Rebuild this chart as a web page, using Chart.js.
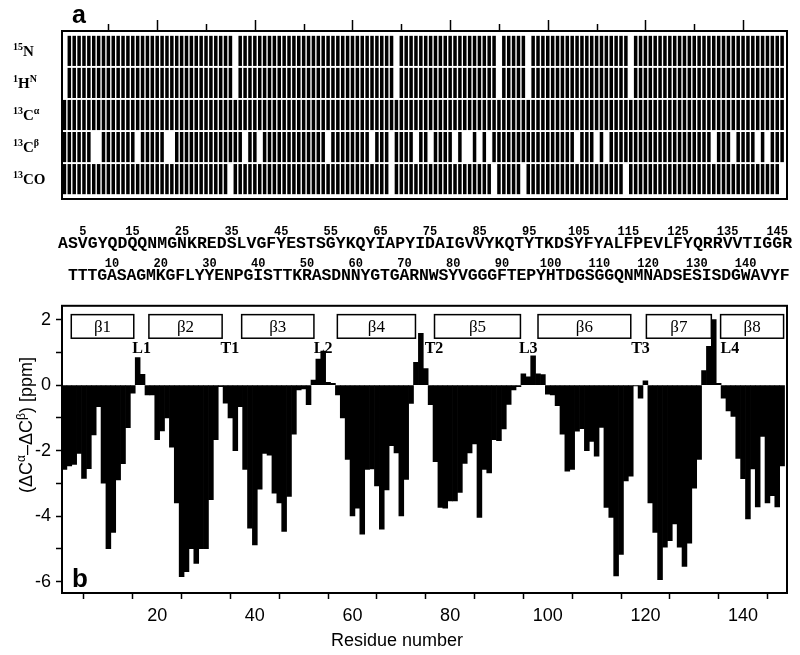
<!DOCTYPE html>
<html>
<head>
<meta charset="utf-8">
<script src="https://cdn.jsdelivr.net/npm/chart.js@4.4.0/dist/chart.umd.min.js"></script>
<style>
  body { margin: 0; background: #fff; width: 800px; height: 655px; position: relative; overflow: hidden; }
  canvas { position: absolute; left: 0; }
  #chartA { top: 0; }
  #chartB { top: 290px; }
</style>
</head>
<body>
<canvas id="chartA" width="800" height="290"></canvas>
<canvas id="chartB" width="800" height="365"></canvas>
<script>
// (dCa - dCb) secondary shift per residue, residues 1..148
const shiftDiff = [
  -2.58, -2.47, -2.42, -2.09, -2.85, -2.55, -1.52, -0.66, -3.00, -5.00,
  -4.50, -2.90, -2.40, -1.30, -0.25,  0.84,  0.33, -0.30, -0.30, -1.67,
  -1.40, -1.00, -1.90, -3.60, -5.85, -5.70, -5.00, -5.45, -5.00, -5.00,
  -3.50, -1.67, -0.05, -0.55, -1.00, -2.00, -0.66, -2.58, -4.37, -4.88,
  -3.18, -2.09, -2.14, -3.30, -3.60, -4.47, -3.40, -1.50, -0.15, -0.12,
  -0.60,  0.15,  0.79,  1.04,  0.08,  0.05, -0.30, -1.00, -2.27, -4.00,
  -3.76, -4.55, -2.58, -2.56, -3.08, -4.40, -3.20, -1.85, -2.07, -4.00,
  -2.88, -0.56,  0.69,  1.58,  0.50, -0.60, -2.34, -3.74, -3.76, -3.54,
  -3.54, -3.28, -2.39, -2.07, -1.80, -4.04, -2.58, -2.68, -1.67, -1.70,
  -1.34, -0.59, -0.15, -0.05,  0.34,  0.25,  0.89,  0.34,  0.32, -0.28,
  -0.30, -0.63, -1.50, -2.63, -2.58, -1.41, -1.33, -2.00, -1.72, -2.17,
  -1.29, -3.74, -4.04, -5.83, -5.17, -2.93, -2.78, -0.03, -0.40,  0.13,
  -3.60, -4.50, -5.94, -4.95, -4.75, -4.24, -4.95, -5.54, -4.83, -3.15,
  -2.27,  0.44,  1.18,  2.00,  0.05, -0.40, -0.79, -0.96, -2.24, -2.86,
  -4.09, -2.56, -3.72, -1.57, -3.60, -3.38, -3.72, -2.47
]

// residues without an assignment, per nucleus (panel a)
const missN  = [1, 36, 69, 90, 96, 117]
const missHN = [1, 36, 69, 90, 96, 117]
const missCA = []
const missCB = [7, 8, 16, 22, 23, 38, 41, 55, 64, 68, 73, 76, 81, 83, 84, 86, 88, 106, 110, 112, 134, 138, 143, 145]
const missCO = [35, 68, 89, 95, 116, 148]

// sequence, odd residues on the top line, even ones below
const oddSeq  = 'ASVGYQDQQNMGNKREDSLVGFYESTSGYKQYIAPYIDAIGVVYKQTYTKDSYFYALFPEVLFYQRRVVTIGGR'
const evenSeq = 'TTTGASAGMKGFLYYENPGISTTKRASDNNYGTGARNWSYVGGGFTEPYHTDGSGGQNMNADSESISDGWAVYF'
const topNums = [5, 15, 25, 35, 45, 55, 65, 75, 85, 95, 105, 115, 125, 135, 145]
const botNums = [10, 20, 30, 40, 50, 60, 70, 80, 90, 100, 110, 120, 130, 140]

// secondary structure
const strandNames = ['β1', 'β2', 'β3', 'β4', 'β5', 'β6', 'β7', 'β8']
const strandStart = [2.4, 18.3, 37.3, 56.9, 76.8, 98.0, 120.2, 135.4]
const strandEnd   = [15.2, 33.3, 52.1, 72.9, 94.4, 117.0, 133.5, 148.3]
const loopNames = ['L1', 'T1', 'L2', 'T2', 'L3', 'T3', 'L4']
const loopPos   = [16.8, 34.9, 54.0, 76.7, 96.0, 119.0, 137.3]

const xTicks = [10, 20, 30, 40, 50, 60, 70, 80, 90, 100, 110, 120, 130, 140]
const yTicks = [-6, -5, -4, -3, -2, -1, 0, 1, 2]

Chart.defaults.font.family = '"Liberation Sans", Arial, sans-serif'
Chart.defaults.color = '#000'

const resNums = shiftDiff.map((v, i) => i + 1)

// ---------- panel a ----------
const nuclei = ['15N', '1HN', '13Cα', '13Cβ', '13CO']
const missing = [missN, missHN, missCA, missCB, missCO]
const rowLabels = [
  [['15', 1], ['N', 0]],
  [['1', 1], ['H', 0], ['N', 1]],
  [['13', 1], ['C', 0], ['α', 1]],
  [['13', 1], ['C', 0], ['β', 1]],
  [['13', 1], ['CO', 0]]
]

const datasetsA = nuclei.map((name, k) => {
  const lo = 4 - k + 0.03
  const hi = 5 - k - 0.03
  return {
    label: name,
    data: resNums.filter(r => !missing[k].includes(r)).map(r => ({ x: r, y: [lo, hi] })),
    backgroundColor: '#000',
    barPercentage: 0.72,
    categoryPercentage: 1,
    grouped: false
  }
})

const panelA = {
  id: 'panelA',
  afterDraw(chart) {
    const { ctx, chartArea: a, scales: { x, y } } = chart
    ctx.save()
    ctx.strokeStyle = '#000'
    ctx.fillStyle = '#000'
    ctx.lineWidth = 2
    ctx.strokeRect(a.left, a.top, a.right - a.left, a.bottom - a.top)

    ctx.lineWidth = 1.5
    xTicks.forEach(v => {
      const px = Math.round(x.getPixelForValue(v)) + 0.5
      const len = v % 20 === 0 ? 10 : 6
      ctx.beginPath()
      ctx.moveTo(px, a.top - 1)
      ctx.lineTo(px, a.top - 1 - len)
      ctx.stroke()
    })

    ctx.textAlign = 'left'
    ctx.textBaseline = 'alphabetic'
    rowLabels.forEach((parts, k) => {
      const yc = y.getPixelForValue(4.5 - k)
      let px = 13
      parts.forEach(([t, sup]) => {
        ctx.font = sup ? 'bold 10px "Liberation Serif"' : 'bold 15px "Liberation Serif"'
        ctx.fillText(t, px, sup ? yc - 1 : yc + 5)
        px += ctx.measureText(t).width
      })
    })

    ctx.font = 'bold 25px "Liberation Sans"'
    ctx.fillText('a', 72, 23)

    // sequence
    ctx.textAlign = 'center'
    ctx.font = 'bold 16.5px "Liberation Mono"'
    oddSeq.split('').forEach((c, i) => ctx.fillText(c, 58 + (i + 0.5) * 9.92, 248))
    evenSeq.split('').forEach((c, i) => ctx.fillText(c, 68 + (i + 0.5) * 9.75, 280))
    ctx.font = 'bold 12px "Liberation Mono"'
    topNums.forEach(n => ctx.fillText(String(n), 58 + ((n - 1) / 2 + 0.5) * 9.92, 235))
    botNums.forEach(n => ctx.fillText(String(n), 68 + (n / 2 - 1 + 0.5) * 9.75, 267))
    ctx.restore()
  }
}

const chartA = new Chart(document.getElementById('chartA'), {
  type: 'bar',
  data: { datasets: datasetsA },
  options: {
    responsive: false,
    animation: false,
    layout: { padding: { left: 62, right: 13, top: 31, bottom: 91 } },
    plugins: { legend: { display: false }, tooltip: { enabled: false } },
    scales: {
      x: { type: 'linear', min: 0.5, max: 149, offset: false, display: false },
      y: { min: -0.12, max: 5.12, display: false }
    }
  },
  plugins: [panelA]
})

// ---------- panel b ----------
const panelB = {
  id: 'panelB',
  afterDraw(chart) {
    const { ctx, chartArea: a, scales: { x, y } } = chart
    ctx.save()
    ctx.strokeStyle = '#000'
    ctx.fillStyle = '#000'
    ctx.lineWidth = 2
    ctx.strokeRect(a.left, a.top, a.right - a.left, a.bottom - a.top)

    // strands
    ctx.lineWidth = 1.5
    ctx.textAlign = 'center'
    ctx.textBaseline = 'middle'
    ctx.font = '17px "Liberation Serif"'
    strandNames.forEach((name, i) => {
      const x1 = x.getPixelForValue(strandStart[i])
      const x2 = x.getPixelForValue(strandEnd[i])
      const y1 = y.getPixelForValue(2.15)
      const y2 = y.getPixelForValue(1.43)
      ctx.strokeRect(x1, y1, x2 - x1, y2 - y1)
      ctx.fillText(name, (x1 + x2) / 2, (y1 + y2) / 2 + 1)
    })

    ctx.font = 'bold 16px "Liberation Serif"'
    loopNames.forEach((name, i) => {
      ctx.fillText(name, x.getPixelForValue(loopPos[i]), y.getPixelForValue(1.1))
    })

    ctx.textBaseline = 'alphabetic'
    ctx.textAlign = 'left'
    ctx.font = 'bold 26px "Liberation Sans"'
    ctx.fillText('b', 72, 297)

    ctx.textAlign = 'center'
    ctx.font = '18px "Liberation Sans"'
    ctx.fillText('Residue number', 397, 356)

    // y title with superscripts
    const parts = [['(ΔC', 0], ['α', 1], ['–ΔC', 0], ['β', 1], [') [ppm]', 0]]
    const fN = '18px "Liberation Sans"'
    const fS = '12px "Liberation Sans"'
    let total = 0
    parts.forEach(([t, s]) => { ctx.font = s ? fS : fN; total += ctx.measureText(t).width })
    ctx.translate(26, 135)
    ctx.rotate(-Math.PI / 2)
    ctx.textAlign = 'left'
    let px = -total / 2
    parts.forEach(([t, s]) => {
      ctx.font = s ? fS : fN
      ctx.fillText(t, px, s ? -1 : 6)
      px += ctx.measureText(t).width
    })
    ctx.restore()
  }
}

const chartB = new Chart(document.getElementById('chartB'), {
  type: 'bar',
  data: {
    datasets: [{
      label: 'dCa-dCb',
      data: resNums.map((r, i) => ({ x: r, y: shiftDiff[i] })),
      backgroundColor: '#000',
      barPercentage: 1,
      categoryPercentage: 1
    }]
  },
  options: {
    responsive: false,
    animation: false,
    layout: { padding: { top: 13, right: 13 } },
    plugins: { legend: { display: false }, tooltip: { enabled: false } },
    scales: {
      x: {
        type: 'linear',
        min: 0.5,
        max: 149,
        offset: false,
        afterBuildTicks: s => { s.ticks = xTicks.map(v => ({ value: v })) },
        afterFit: s => { s.height = 62 },
        border: { display: false },
        grid: { drawOnChartArea: false, tickLength: 6, tickColor: '#000', tickWidth: 1.5 },
        ticks: { callback: v => (v % 20 === 0 ? v : ''), font: { size: 18 }, color: '#000', padding: 6, maxRotation: 0, autoSkip: false }
      },
      y: {
        min: -6.35,
        max: 2.42,
        afterBuildTicks: s => { s.ticks = yTicks.map(v => ({ value: v })) },
        afterFit: s => { s.width = 62 },
        border: { display: false },
        grid: { drawOnChartArea: false, tickLength: 6, tickColor: '#000', tickWidth: 1.5 },
        ticks: { callback: v => (v % 2 === 0 ? v : ''), font: { size: 18 }, color: '#000', padding: 5 }
      }
    }
  },
  plugins: [panelB]
})
</script>
</body>
</html>
